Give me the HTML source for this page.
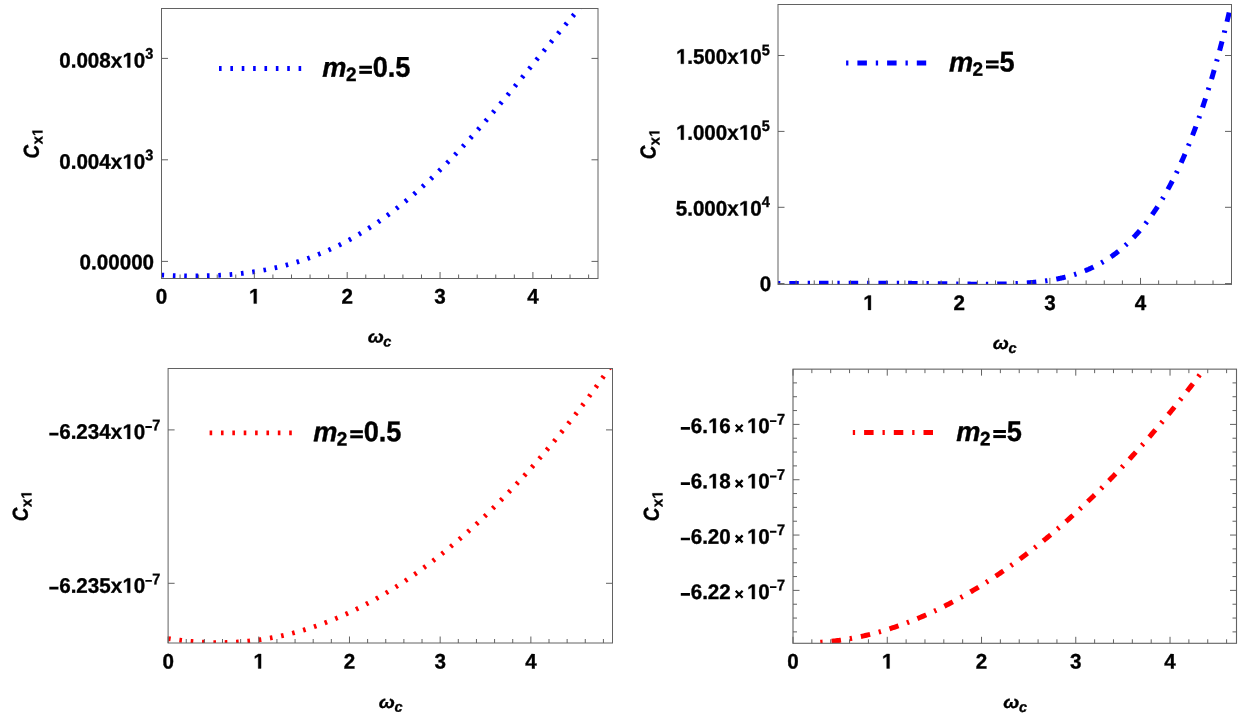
<!DOCTYPE html>
<html><head><meta charset="utf-8"><title>C_x1 versus omega_c for m2 = 0.5 and m2 = 5</title>
<style>
html,body{margin:0;padding:0;background:#fff;}
svg{display:block;will-change:transform;}
text{font-family:"Liberation Sans", sans-serif;font-weight:bold;fill:#000;stroke:#000;stroke-width:0.35px;stroke-linejoin:round;font-kerning:none;white-space:pre;text-rendering:geometricPrecision;}
path.g1{fill:#000;stroke:#000;stroke-width:35;stroke-linejoin:round;}rect.g1{fill:#000;}
</style></head>
<body>
<svg width="1238" height="719" viewBox="0 0 1238 719">
<clipPath id="c1"><rect x="161.5" y="8.5" width="436.5" height="270.0"/></clipPath>
<clipPath id="c2"><rect x="778.0" y="4.5" width="453.5" height="279.9"/></clipPath>
<clipPath id="c3"><rect x="168.1" y="368.5" width="444.4" height="274.5"/></clipPath>
<clipPath id="c4"><rect x="793.0" y="369.15" width="443.5" height="274.15"/></clipPath>
<path d="M161.50,275.05 L162.93,275.12 L164.37,275.19 L165.80,275.25 L167.23,275.31 L168.67,275.37 L170.10,275.43 L171.53,275.48 L172.96,275.53 L174.40,275.58 L175.83,275.62 L177.26,275.66 L178.70,275.70 L180.13,275.74 L181.56,275.77 L183.00,275.80 L184.43,275.83 L185.86,275.85 L187.30,275.87 L188.73,275.88 L190.16,275.90 L191.60,275.90 L193.03,275.91 L194.46,275.91 L195.89,275.91 L197.33,275.90 L198.76,275.89 L200.19,275.88 L201.63,275.86 L203.06,275.83 L204.49,275.81 L205.93,275.78 L207.36,275.74 L208.79,275.70 L210.23,275.66 L211.66,275.61 L213.09,275.56 L214.53,275.50 L215.96,275.44 L217.39,275.37 L218.82,275.30 L220.26,275.22 L221.69,275.14 L223.12,275.05 L224.56,274.96 L225.99,274.86 L227.42,274.76 L228.86,274.65 L230.29,274.53 L231.72,274.41 L233.16,274.29 L234.59,274.16 L236.02,274.02 L237.45,273.88 L238.89,273.73 L240.32,273.58 L241.75,273.42 L243.19,273.25 L244.62,273.08 L246.05,272.90 L247.49,272.72 L248.92,272.53 L250.35,272.33 L251.79,272.13 L253.22,271.92 L254.65,271.70 L256.09,271.48 L257.52,271.25 L258.95,271.01 L260.38,270.77 L261.82,270.52 L263.25,270.26 L264.68,270.00 L266.12,269.73 L267.55,269.45 L268.98,269.16 L270.42,268.87 L271.85,268.57 L273.28,268.26 L274.72,267.95 L276.15,267.62 L277.58,267.29 L279.02,266.95 L280.45,266.61 L281.88,266.25 L283.31,265.89 L284.75,265.52 L286.18,265.15 L287.61,264.76 L289.05,264.37 L290.48,263.96 L291.91,263.55 L293.35,263.14 L294.78,262.71 L296.21,262.27 L297.65,261.83 L299.08,261.38 L300.51,260.92 L301.94,260.45 L303.38,259.97 L304.81,259.48 L306.24,258.99 L307.68,258.48 L309.11,257.97 L310.54,257.45 L311.98,256.92 L313.41,256.38 L314.84,255.83 L316.28,255.27 L317.71,254.71 L319.14,254.13 L320.58,253.54 L322.01,252.95 L323.44,252.34 L324.87,251.73 L326.31,251.11 L327.74,250.48 L329.17,249.83 L330.61,249.18 L332.04,248.52 L333.47,247.85 L334.91,247.17 L336.34,246.48 L337.77,245.78 L339.21,245.07 L340.64,244.35 L342.07,243.62 L343.51,242.89 L344.94,242.14 L346.37,241.38 L347.80,240.61 L349.24,239.83 L350.67,239.04 L352.10,238.25 L353.54,237.44 L354.97,236.62 L356.40,235.79 L357.84,234.95 L359.27,234.10 L360.70,233.25 L362.14,232.38 L363.57,231.50 L365.00,230.61 L366.43,229.71 L367.87,228.80 L369.30,227.88 L370.73,226.95 L372.17,226.01 L373.60,225.06 L375.03,224.10 L376.47,223.13 L377.90,222.15 L379.33,221.16 L380.77,220.16 L382.20,219.15 L383.63,218.12 L385.07,217.09 L386.50,216.05 L387.93,215.00 L389.36,213.94 L390.80,212.86 L392.23,211.78 L393.66,210.69 L395.10,209.58 L396.53,208.47 L397.96,207.35 L399.40,206.21 L400.83,205.07 L402.26,203.92 L403.70,202.75 L405.13,201.58 L406.56,200.39 L407.99,199.20 L409.43,198.00 L410.86,196.78 L412.29,195.56 L413.73,194.32 L415.16,193.08 L416.59,191.83 L418.03,190.56 L419.46,189.29 L420.89,188.01 L422.33,186.72 L423.76,185.42 L425.19,184.10 L426.63,182.78 L428.06,181.45 L429.49,180.11 L430.92,178.77 L432.36,177.41 L433.79,176.04 L435.22,174.66 L436.66,173.28 L438.09,171.88 L439.52,170.48 L440.96,169.07 L442.39,167.65 L443.82,166.21 L445.26,164.78 L446.69,163.33 L448.12,161.87 L449.56,160.41 L450.99,158.93 L452.42,157.45 L453.85,155.96 L455.29,154.46 L456.72,152.96 L458.15,151.44 L459.59,149.92 L461.02,148.39 L462.45,146.86 L463.89,145.31 L465.32,143.76 L466.75,142.20 L468.19,140.63 L469.62,139.06 L471.05,137.47 L472.48,135.88 L473.92,134.29 L475.35,132.69 L476.78,131.08 L478.22,129.46 L479.65,127.84 L481.08,126.21 L482.52,124.58 L483.95,122.93 L485.38,121.29 L486.82,119.64 L488.25,117.98 L489.68,116.31 L491.12,114.64 L492.55,112.97 L493.98,111.29 L495.41,109.60 L496.85,107.91 L498.28,106.22 L499.71,104.52 L501.15,102.82 L502.58,101.11 L504.01,99.40 L505.45,97.68 L506.88,95.96 L508.31,94.24 L509.75,92.51 L511.18,90.78 L512.61,89.05 L514.05,87.31 L515.48,85.58 L516.91,83.83 L518.34,82.09 L519.78,80.35 L521.21,78.60 L522.64,76.85 L524.08,75.10 L525.51,73.34 L526.94,71.59 L528.38,69.83 L529.81,68.08 L531.24,66.32 L532.68,64.56 L534.11,62.81 L535.54,61.05 L536.97,59.29 L538.41,57.54 L539.84,55.78 L541.27,54.02 L542.71,52.27 L544.14,50.52 L545.57,48.76 L547.01,47.01 L548.44,45.27 L549.87,43.52 L551.31,41.78 L552.74,40.04 L554.17,38.30 L555.61,36.57 L557.04,34.83 L558.47,33.11 L559.90,31.38 L561.34,29.66 L562.77,27.95 L564.20,26.24 L565.64,24.54 L567.07,22.84 L568.50,21.14 L569.94,19.45 L571.37,17.77 L572.80,16.10 L574.24,14.43 L575.67,12.77 L577.10,11.11 L578.54,9.47 L579.97,7.83 L581.40,6.20 L582.83,4.57 L584.27,2.96 L585.70,1.36 L587.13,-0.24 L588.57,-1.82 L590.00,-3.40" fill="none" stroke="#0000ff" stroke-width="4.8" stroke-dasharray="2.6 8.77" clip-path="url(#c1)"/>
<path d="M778.00,283.40 L778.76,283.40 L779.52,283.40 L780.28,283.40 L781.04,283.40 L781.80,283.40 L782.56,283.40 L783.32,283.40 L784.08,283.40 L784.84,283.40 L785.60,283.40 L786.35,283.40 L787.11,283.40 L787.87,283.39 L788.63,283.39 L789.39,283.39 L790.15,283.39 L790.91,283.39 L791.67,283.39 L792.43,283.39 L793.19,283.39 L793.95,283.39 L794.71,283.39 L795.47,283.38 L796.23,283.38 L796.99,283.38 L797.75,283.38 L798.51,283.38 L799.27,283.38 L800.03,283.37 L800.79,283.37 L801.55,283.37 L802.31,283.37 L803.06,283.37 L803.82,283.37 L804.58,283.36 L805.34,283.36 L806.10,283.36 L806.86,283.36 L807.62,283.36 L808.38,283.35 L809.14,283.35 L809.90,283.35 L810.66,283.35 L811.42,283.34 L812.18,283.34 L812.94,283.34 L813.70,283.34 L814.46,283.34 L815.22,283.33 L815.98,283.33 L816.74,283.33 L817.50,283.33 L818.26,283.32 L819.01,283.32 L819.77,283.32 L820.53,283.31 L821.29,283.31 L822.05,283.31 L822.81,283.31 L823.57,283.30 L824.33,283.30 L825.09,283.30 L825.85,283.30 L826.61,283.29 L827.37,283.29 L828.13,283.29 L828.89,283.29 L829.65,283.28 L830.41,283.28 L831.17,283.28 L831.93,283.27 L832.69,283.27 L833.45,283.27 L834.21,283.27 L834.97,283.26 L835.72,283.26 L836.48,283.26 L837.24,283.26 L838.00,283.25 L838.76,283.25 L839.52,283.25 L840.28,283.25 L841.04,283.24 L841.80,283.24 L842.56,283.24 L843.32,283.24 L844.08,283.23 L844.84,283.23 L845.60,283.23 L846.36,283.23 L847.12,283.22 L847.88,283.22 L848.64,283.22 L849.40,283.22 L850.16,283.22 L850.92,283.21 L851.68,283.21 L852.43,283.21 L853.19,283.21 L853.95,283.21 L854.71,283.21 L855.47,283.20 L856.23,283.20 L856.99,283.20 L857.75,283.20 L858.51,283.20 L859.27,283.20 L860.03,283.20 L860.79,283.19 L861.55,283.19 L862.31,283.19 L863.07,283.19 L863.83,283.19 L864.59,283.19 L865.35,283.19 L866.11,283.19 L866.87,283.19 L867.63,283.19 L868.38,283.19 L869.14,283.19 L869.90,283.19 L870.66,283.19 L871.42,283.19 L872.18,283.19 L872.94,283.19 L873.70,283.19 L874.46,283.19 L875.22,283.19 L875.98,283.19 L876.74,283.19 L877.50,283.19 L878.26,283.19 L879.02,283.20 L879.78,283.20 L880.54,283.20 L881.30,283.20 L882.06,283.20 L882.82,283.20 L883.58,283.21 L884.34,283.21 L885.09,283.21 L885.85,283.21 L886.61,283.21 L887.37,283.22 L888.13,283.22 L888.89,283.22 L889.65,283.23 L890.41,283.23 L891.17,283.23 L891.93,283.24 L892.69,283.24 L893.45,283.24 L894.21,283.25 L894.97,283.25 L895.73,283.26 L896.49,283.26 L897.25,283.26 L898.01,283.27 L898.77,283.27 L899.53,283.28 L900.29,283.28 L901.04,283.29 L901.80,283.29 L902.56,283.30 L903.32,283.30 L904.08,283.31 L904.84,283.32 L905.60,283.32 L906.36,283.33 L907.12,283.33 L907.88,283.34 L908.64,283.35 L909.40,283.35 L910.16,283.36 L910.92,283.37 L911.68,283.37 L912.44,283.38 L913.20,283.39 L913.96,283.40 L914.72,283.40 L915.48,283.41 L916.24,283.42 L917.00,283.43 L917.75,283.44 L918.51,283.44 L919.27,283.45 L920.03,283.46 L920.79,283.47 L921.55,283.48 L922.31,283.49 L923.07,283.50 L923.83,283.50 L924.59,283.51 L925.35,283.52 L926.11,283.53 L926.87,283.54 L927.63,283.55 L928.39,283.56 L929.15,283.57 L929.91,283.58 L930.67,283.59 L931.43,283.60 L932.19,283.61 L932.95,283.62 L933.71,283.63 L934.46,283.64 L935.22,283.65 L935.98,283.66 L936.74,283.67 L937.50,283.68 L938.26,283.70 L939.02,283.71 L939.78,283.72 L940.54,283.73 L941.30,283.74 L942.06,283.75 L942.82,283.76 L943.58,283.77 L944.34,283.78 L945.10,283.79 L945.86,283.80 L946.62,283.82 L947.38,283.83 L948.14,283.84 L948.90,283.85 L949.66,283.86 L950.41,283.87 L951.17,283.88 L951.93,283.89 L952.69,283.90 L953.45,283.91 L954.21,283.92 L954.97,283.93 L955.73,283.95 L956.49,283.96 L957.25,283.97 L958.01,283.98 L958.77,283.99 L959.53,284.00 L960.29,284.01 L961.05,284.02 L961.81,284.03 L962.57,284.04 L963.33,284.04 L964.09,284.05 L964.85,284.06 L965.61,284.07 L966.37,284.08 L967.12,284.09 L967.88,284.10 L968.64,284.10 L969.40,284.11 L970.16,284.12 L970.92,284.13 L971.68,284.13 L972.44,284.14 L973.20,284.15 L973.96,284.15 L974.72,284.16 L975.48,284.16 L976.24,284.17 L977.00,284.17 L977.76,284.18 L978.52,284.18 L979.28,284.19 L980.04,284.19 L980.80,284.19 L981.56,284.20 L982.32,284.20 L983.07,284.20 L983.83,284.20 L984.59,284.20 L985.35,284.20 L986.11,284.20 L986.87,284.20 L987.63,284.20 L988.39,284.20 L989.15,284.19 L989.91,284.19 L990.67,284.19 L991.43,284.18 L992.19,284.18 L992.95,284.17 L993.71,284.16 L994.47,284.16 L995.23,284.15 L995.99,284.14 L996.75,284.13 L997.51,284.12 L998.27,284.11 L999.03,284.10 L999.78,284.09 L1000.54,284.07 L1001.30,284.06 L1002.06,284.04 L1002.82,284.03 L1003.58,284.01 L1004.34,283.99 L1005.10,283.97 L1005.86,283.96 L1006.62,283.93 L1007.38,283.91 L1008.14,283.89 L1008.90,283.87 L1009.66,283.84 L1010.42,283.82 L1011.18,283.79 L1011.94,283.76 L1012.70,283.73 L1013.46,283.70 L1014.22,283.67 L1014.98,283.63 L1015.74,283.60 L1016.49,283.56 L1017.25,283.53 L1018.01,283.49 L1018.77,283.45 L1019.53,283.41 L1020.29,283.36 L1021.05,283.32 L1021.81,283.27 L1022.57,283.23 L1023.33,283.18 L1024.09,283.13 L1024.85,283.08 L1025.61,283.02 L1026.37,282.97 L1027.13,282.91 L1027.89,282.85 L1028.65,282.79 L1029.41,282.73 L1030.17,282.66 L1030.93,282.60 L1031.69,282.53 L1032.44,282.46 L1033.20,282.39 L1033.96,282.32 L1034.72,282.24 L1035.48,282.16 L1036.24,282.08 L1037.00,282.00 L1037.76,281.92 L1038.52,281.83 L1039.28,281.74 L1040.04,281.65 L1040.80,281.56 L1041.56,281.46 L1042.32,281.36 L1043.08,281.26 L1043.84,281.16 L1044.60,281.06 L1045.36,280.95 L1046.12,280.84 L1046.88,280.73 L1047.64,280.61 L1048.40,280.49 L1049.15,280.37 L1049.91,280.25 L1050.67,280.12 L1051.43,279.99 L1052.19,279.86 L1052.95,279.73 L1053.71,279.59 L1054.47,279.45 L1055.23,279.30 L1055.99,279.16 L1056.75,279.01 L1057.51,278.85 L1058.27,278.70 L1059.03,278.54 L1059.79,278.37 L1060.55,278.21 L1061.31,278.04 L1062.07,277.86 L1062.83,277.69 L1063.59,277.51 L1064.35,277.32 L1065.10,277.13 L1065.86,276.94 L1066.62,276.75 L1067.38,276.55 L1068.14,276.35 L1068.90,276.14 L1069.66,275.93 L1070.42,275.71 L1071.18,275.49 L1071.94,275.27 L1072.70,275.04 L1073.46,274.81 L1074.22,274.58 L1074.98,274.34 L1075.74,274.09 L1076.50,273.84 L1077.26,273.59 L1078.02,273.33 L1078.78,273.07 L1079.54,272.80 L1080.30,272.53 L1081.06,272.25 L1081.81,271.97 L1082.57,271.68 L1083.33,271.39 L1084.09,271.10 L1084.85,270.79 L1085.61,270.49 L1086.37,270.17 L1087.13,269.86 L1087.89,269.53 L1088.65,269.21 L1089.41,268.87 L1090.17,268.53 L1090.93,268.19 L1091.69,267.84 L1092.45,267.48 L1093.21,267.12 L1093.97,266.75 L1094.73,266.37 L1095.49,265.99 L1096.25,265.61 L1097.01,265.21 L1097.77,264.82 L1098.52,264.41 L1099.28,264.00 L1100.04,263.58 L1100.80,263.16 L1101.56,262.72 L1102.32,262.29 L1103.08,261.84 L1103.84,261.39 L1104.60,260.93 L1105.36,260.47 L1106.12,259.99 L1106.88,259.51 L1107.64,259.03 L1108.40,258.53 L1109.16,258.03 L1109.92,257.52 L1110.68,257.01 L1111.44,256.48 L1112.20,255.95 L1112.96,255.41 L1113.72,254.86 L1114.47,254.31 L1115.23,253.74 L1115.99,253.17 L1116.75,252.59 L1117.51,252.00 L1118.27,251.40 L1119.03,250.80 L1119.79,250.18 L1120.55,249.56 L1121.31,248.93 L1122.07,248.29 L1122.83,247.64 L1123.59,246.98 L1124.35,246.31 L1125.11,245.64 L1125.87,244.95 L1126.63,244.26 L1127.39,243.55 L1128.15,242.84 L1128.91,242.11 L1129.67,241.38 L1130.43,240.63 L1131.18,239.88 L1131.94,239.12 L1132.70,238.34 L1133.46,237.56 L1134.22,236.76 L1134.98,235.96 L1135.74,235.14 L1136.50,234.31 L1137.26,233.47 L1138.02,232.63 L1138.78,231.77 L1139.54,230.89 L1140.30,230.01 L1141.06,229.12 L1141.82,228.21 L1142.58,227.30 L1143.34,226.37 L1144.10,225.43 L1144.86,224.48 L1145.62,223.51 L1146.38,222.54 L1147.13,221.55 L1147.89,220.55 L1148.65,219.53 L1149.41,218.51 L1150.17,217.47 L1150.93,216.42 L1151.69,215.35 L1152.45,214.27 L1153.21,213.18 L1153.97,212.08 L1154.73,210.96 L1155.49,209.83 L1156.25,208.68 L1157.01,207.53 L1157.77,206.35 L1158.53,205.17 L1159.29,203.96 L1160.05,202.75 L1160.81,201.52 L1161.57,200.27 L1162.33,199.02 L1163.09,197.74 L1163.84,196.45 L1164.60,195.15 L1165.36,193.83 L1166.12,192.49 L1166.88,191.14 L1167.64,189.78 L1168.40,188.39 L1169.16,187.00 L1169.92,185.58 L1170.68,184.15 L1171.44,182.71 L1172.20,181.24 L1172.96,179.76 L1173.72,178.27 L1174.48,176.75 L1175.24,175.22 L1176.00,173.67 L1176.76,172.11 L1177.52,170.52 L1178.28,168.92 L1179.04,167.31 L1179.80,165.67 L1180.55,164.01 L1181.31,162.34 L1182.07,160.65 L1182.83,158.94 L1183.59,157.21 L1184.35,155.46 L1185.11,153.70 L1185.87,151.91 L1186.63,150.11 L1187.39,148.28 L1188.15,146.44 L1188.91,144.57 L1189.67,142.69 L1190.43,140.78 L1191.19,138.86 L1191.95,136.91 L1192.71,134.94 L1193.47,132.96 L1194.23,130.95 L1194.99,128.92 L1195.75,126.87 L1196.50,124.79 L1197.26,122.70 L1198.02,120.58 L1198.78,118.45 L1199.54,116.29 L1200.30,114.10 L1201.06,111.90 L1201.82,109.67 L1202.58,107.42 L1203.34,105.14 L1204.10,102.84 L1204.86,100.52 L1205.62,98.18 L1206.38,95.81 L1207.14,93.41 L1207.90,91.00 L1208.66,88.56 L1209.42,86.09 L1210.18,83.60 L1210.94,81.08 L1211.70,78.54 L1212.46,75.97 L1213.21,73.38 L1213.97,70.76 L1214.73,68.12 L1215.49,65.44 L1216.25,62.75 L1217.01,60.02 L1217.77,57.27 L1218.53,54.49 L1219.29,51.69 L1220.05,48.86 L1220.81,46.00 L1221.57,43.11 L1222.33,40.19 L1223.09,37.25 L1223.85,34.28 L1224.61,31.27 L1225.37,28.24 L1226.13,25.18 L1226.89,22.10 L1227.65,18.98 L1228.41,15.83 L1229.16,12.65 L1229.92,9.44 L1230.68,6.20 L1231.44,2.93 L1232.20,-0.37 L1232.96,-3.70" fill="none" stroke="#0000ff" stroke-width="5.0" stroke-dasharray="2.3 9.0 9.5 8.9" clip-path="url(#c2)"/>
<path d="M168.10,638.58 L169.59,638.81 L171.08,639.03 L172.56,639.24 L174.05,639.45 L175.54,639.65 L177.03,639.85 L178.52,640.04 L180.00,640.22 L181.49,640.40 L182.98,640.57 L184.47,640.73 L185.96,640.89 L187.44,641.04 L188.93,641.19 L190.42,641.32 L191.91,641.45 L193.40,641.58 L194.88,641.69 L196.37,641.80 L197.86,641.91 L199.35,642.00 L200.84,642.09 L202.32,642.17 L203.81,642.25 L205.30,642.32 L206.79,642.38 L208.27,642.43 L209.76,642.48 L211.25,642.52 L212.74,642.55 L214.23,642.58 L215.71,642.60 L217.20,642.61 L218.69,642.61 L220.18,642.61 L221.67,642.59 L223.15,642.58 L224.64,642.55 L226.13,642.52 L227.62,642.48 L229.11,642.43 L230.59,642.37 L232.08,642.31 L233.57,642.24 L235.06,642.16 L236.55,642.07 L238.03,641.98 L239.52,641.88 L241.01,641.77 L242.50,641.65 L243.99,641.53 L245.47,641.40 L246.96,641.26 L248.45,641.11 L249.94,640.96 L251.43,640.79 L252.91,640.62 L254.40,640.44 L255.89,640.26 L257.38,640.06 L258.87,639.86 L260.35,639.65 L261.84,639.44 L263.33,639.21 L264.82,638.98 L266.31,638.74 L267.79,638.49 L269.28,638.23 L270.77,637.97 L272.26,637.69 L273.75,637.41 L275.23,637.12 L276.72,636.83 L278.21,636.52 L279.70,636.21 L281.18,635.89 L282.67,635.56 L284.16,635.22 L285.65,634.88 L287.14,634.53 L288.62,634.17 L290.11,633.80 L291.60,633.42 L293.09,633.04 L294.58,632.64 L296.06,632.24 L297.55,631.83 L299.04,631.42 L300.53,630.99 L302.02,630.56 L303.50,630.12 L304.99,629.67 L306.48,629.21 L307.97,628.75 L309.46,628.27 L310.94,627.79 L312.43,627.30 L313.92,626.80 L315.41,626.30 L316.90,625.78 L318.38,625.26 L319.87,624.73 L321.36,624.19 L322.85,623.65 L324.34,623.09 L325.82,622.53 L327.31,621.96 L328.80,621.38 L330.29,620.79 L331.78,620.20 L333.26,619.59 L334.75,618.98 L336.24,618.36 L337.73,617.74 L339.22,617.10 L340.70,616.46 L342.19,615.80 L343.68,615.14 L345.17,614.48 L346.66,613.80 L348.14,613.12 L349.63,612.42 L351.12,611.72 L352.61,611.01 L354.09,610.30 L355.58,609.57 L357.07,608.84 L358.56,608.10 L360.05,607.35 L361.53,606.59 L363.02,605.83 L364.51,605.05 L366.00,604.27 L367.49,603.48 L368.97,602.69 L370.46,601.88 L371.95,601.07 L373.44,600.24 L374.93,599.42 L376.41,598.58 L377.90,597.73 L379.39,596.88 L380.88,596.02 L382.37,595.15 L383.85,594.27 L385.34,593.38 L386.83,592.49 L388.32,591.59 L389.81,590.68 L391.29,589.76 L392.78,588.83 L394.27,587.90 L395.76,586.96 L397.25,586.01 L398.73,585.05 L400.22,584.08 L401.71,583.11 L403.20,582.12 L404.69,581.13 L406.17,580.14 L407.66,579.13 L409.15,578.12 L410.64,577.10 L412.13,576.07 L413.61,575.03 L415.10,573.98 L416.59,572.93 L418.08,571.87 L419.57,570.80 L421.05,569.72 L422.54,568.63 L424.03,567.54 L425.52,566.44 L427.01,565.33 L428.49,564.21 L429.98,563.09 L431.47,561.95 L432.96,560.81 L434.44,559.66 L435.93,558.51 L437.42,557.34 L438.91,556.17 L440.40,554.99 L441.88,553.80 L443.37,552.61 L444.86,551.40 L446.35,550.19 L447.84,548.97 L449.32,547.74 L450.81,546.51 L452.30,545.26 L453.79,544.01 L455.28,542.75 L456.76,541.48 L458.25,540.21 L459.74,538.93 L461.23,537.63 L462.72,536.33 L464.20,535.03 L465.69,533.71 L467.18,532.39 L468.67,531.06 L470.16,529.72 L471.64,528.37 L473.13,527.02 L474.62,525.66 L476.11,524.29 L477.60,522.91 L479.08,521.52 L480.57,520.13 L482.06,518.73 L483.55,517.32 L485.04,515.90 L486.52,514.47 L488.01,513.04 L489.50,511.60 L490.99,510.15 L492.48,508.69 L493.96,507.23 L495.45,505.75 L496.94,504.27 L498.43,502.78 L499.92,501.28 L501.40,499.78 L502.89,498.27 L504.38,496.74 L505.87,495.21 L507.35,493.68 L508.84,492.13 L510.33,490.58 L511.82,489.02 L513.31,487.45 L514.79,485.87 L516.28,484.28 L517.77,482.69 L519.26,481.09 L520.75,479.48 L522.23,477.86 L523.72,476.23 L525.21,474.60 L526.70,472.95 L528.19,471.30 L529.67,469.64 L531.16,467.97 L532.65,466.30 L534.14,464.61 L535.63,462.92 L537.11,461.22 L538.60,459.51 L540.09,457.79 L541.58,456.07 L543.07,454.33 L544.55,452.59 L546.04,450.84 L547.53,449.08 L549.02,447.31 L550.51,445.54 L551.99,443.75 L553.48,441.96 L554.97,440.16 L556.46,438.35 L557.95,436.53 L559.43,434.70 L560.92,432.87 L562.41,431.02 L563.90,429.17 L565.39,427.31 L566.87,425.43 L568.36,423.56 L569.85,421.67 L571.34,419.77 L572.83,417.86 L574.31,415.95 L575.80,414.03 L577.29,412.09 L578.78,410.15 L580.26,408.20 L581.75,406.24 L583.24,404.27 L584.73,402.30 L586.22,400.31 L587.70,398.31 L589.19,396.31 L590.68,394.30 L592.17,392.27 L593.66,390.24 L595.14,388.20 L596.63,386.15 L598.12,384.09 L599.61,382.02 L601.10,379.94 L602.58,377.85 L604.07,375.75 L605.56,373.64 L607.05,371.53 L608.54,369.40 L610.02,367.26 L611.51,365.12 L613.00,362.96" fill="none" stroke="#ff0000" stroke-width="4.8" stroke-dasharray="2.6 8.77" clip-path="url(#c3)"/>
<path d="M820.30,642.25 L821.62,642.16 L822.94,642.07 L824.26,641.96 L825.58,641.86 L826.90,641.74 L828.22,641.62 L829.54,641.49 L830.86,641.36 L832.18,641.22 L833.50,641.07 L834.82,640.91 L836.14,640.75 L837.46,640.58 L838.78,640.41 L840.10,640.23 L841.42,640.04 L842.74,639.84 L844.06,639.64 L845.38,639.44 L846.70,639.22 L848.02,639.00 L849.34,638.77 L850.66,638.54 L851.98,638.30 L853.30,638.05 L854.62,637.80 L855.94,637.54 L857.26,637.27 L858.58,637.00 L859.90,636.72 L861.22,636.44 L862.54,636.15 L863.86,635.85 L865.18,635.54 L866.50,635.23 L867.82,634.92 L869.14,634.59 L870.46,634.27 L871.78,633.93 L873.10,633.59 L874.42,633.24 L875.74,632.89 L877.06,632.53 L878.38,632.16 L879.70,631.79 L881.02,631.41 L882.34,631.02 L883.66,630.63 L884.98,630.23 L886.30,629.83 L887.62,629.42 L888.94,629.01 L890.26,628.58 L891.58,628.16 L892.90,627.72 L894.22,627.28 L895.54,626.84 L896.86,626.38 L898.18,625.93 L899.50,625.46 L900.82,624.99 L902.14,624.52 L903.46,624.03 L904.78,623.55 L906.10,623.05 L907.42,622.55 L908.74,622.05 L910.06,621.54 L911.38,621.02 L912.70,620.49 L914.02,619.97 L915.34,619.43 L916.66,618.89 L917.98,618.34 L919.31,617.79 L920.63,617.23 L921.95,616.67 L923.27,616.10 L924.59,615.52 L925.91,614.94 L927.23,614.35 L928.55,613.76 L929.87,613.16 L931.19,612.55 L932.51,611.94 L933.83,611.32 L935.15,610.70 L936.47,610.07 L937.79,609.44 L939.11,608.80 L940.43,608.16 L941.75,607.51 L943.07,606.85 L944.39,606.19 L945.71,605.52 L947.03,604.84 L948.35,604.17 L949.67,603.48 L950.99,602.79 L952.31,602.09 L953.63,601.39 L954.95,600.68 L956.27,599.97 L957.59,599.25 L958.91,598.53 L960.23,597.80 L961.55,597.06 L962.87,596.32 L964.19,595.58 L965.51,594.82 L966.83,594.07 L968.15,593.30 L969.47,592.53 L970.79,591.76 L972.11,590.98 L973.43,590.19 L974.75,589.40 L976.07,588.61 L977.39,587.80 L978.71,587.00 L980.03,586.18 L981.35,585.36 L982.67,584.54 L983.99,583.71 L985.31,582.87 L986.63,582.03 L987.95,581.19 L989.27,580.34 L990.59,579.48 L991.91,578.62 L993.23,577.75 L994.55,576.88 L995.87,576.00 L997.19,575.11 L998.51,574.22 L999.83,573.33 L1001.15,572.43 L1002.47,571.52 L1003.79,570.61 L1005.11,569.69 L1006.43,568.77 L1007.75,567.84 L1009.07,566.91 L1010.39,565.97 L1011.71,565.02 L1013.03,564.08 L1014.35,563.12 L1015.67,562.16 L1016.99,561.19 L1018.31,560.22 L1019.63,559.25 L1020.95,558.26 L1022.27,557.28 L1023.59,556.28 L1024.91,555.29 L1026.23,554.28 L1027.55,553.27 L1028.87,552.26 L1030.19,551.24 L1031.51,550.21 L1032.83,549.18 L1034.15,548.15 L1035.47,547.11 L1036.79,546.06 L1038.11,545.01 L1039.43,543.95 L1040.75,542.89 L1042.07,541.82 L1043.39,540.75 L1044.71,539.67 L1046.03,538.58 L1047.35,537.49 L1048.67,536.40 L1049.99,535.30 L1051.31,534.19 L1052.63,533.08 L1053.95,531.96 L1055.27,530.84 L1056.59,529.71 L1057.91,528.58 L1059.23,527.44 L1060.55,526.30 L1061.87,525.15 L1063.19,524.00 L1064.51,522.84 L1065.83,521.67 L1067.15,520.50 L1068.47,519.32 L1069.79,518.14 L1071.11,516.96 L1072.43,515.76 L1073.75,514.57 L1075.07,513.36 L1076.39,512.16 L1077.71,510.94 L1079.03,509.72 L1080.35,508.50 L1081.67,507.27 L1082.99,506.03 L1084.31,504.79 L1085.63,503.55 L1086.95,502.30 L1088.27,501.04 L1089.59,499.78 L1090.91,498.51 L1092.23,497.23 L1093.55,495.96 L1094.87,494.67 L1096.19,493.38 L1097.51,492.09 L1098.83,490.79 L1100.15,489.48 L1101.47,488.17 L1102.79,486.85 L1104.11,485.53 L1105.43,484.20 L1106.75,482.87 L1108.07,481.53 L1109.39,480.19 L1110.71,478.84 L1112.03,477.48 L1113.35,476.12 L1114.67,474.76 L1115.99,473.38 L1117.32,472.01 L1118.64,470.62 L1119.96,469.24 L1121.28,467.84 L1122.60,466.44 L1123.92,465.04 L1125.24,463.63 L1126.56,462.21 L1127.88,460.79 L1129.20,459.36 L1130.52,457.93 L1131.84,456.49 L1133.16,455.05 L1134.48,453.60 L1135.80,452.14 L1137.12,450.68 L1138.44,449.22 L1139.76,447.75 L1141.08,446.27 L1142.40,444.79 L1143.72,443.30 L1145.04,441.80 L1146.36,440.30 L1147.68,438.80 L1149.00,437.29 L1150.32,435.77 L1151.64,434.25 L1152.96,432.72 L1154.28,431.18 L1155.60,429.65 L1156.92,428.10 L1158.24,426.55 L1159.56,424.99 L1160.88,423.43 L1162.20,421.86 L1163.52,420.29 L1164.84,418.71 L1166.16,417.12 L1167.48,415.53 L1168.80,413.93 L1170.12,412.33 L1171.44,410.72 L1172.76,409.11 L1174.08,407.49 L1175.40,405.86 L1176.72,404.23 L1178.04,402.59 L1179.36,400.95 L1180.68,399.30 L1182.00,397.64 L1183.32,395.98 L1184.64,394.32 L1185.96,392.64 L1187.28,390.96 L1188.60,389.28 L1189.92,387.59 L1191.24,385.89 L1192.56,384.19 L1193.88,382.48 L1195.20,380.76 L1196.52,379.04 L1197.84,377.32 L1199.16,375.58 L1200.48,373.85 L1201.80,372.10 L1203.12,370.35 L1204.44,368.59 L1205.76,366.83 L1207.08,365.06 L1208.40,363.29 L1209.72,361.51 L1211.04,359.72 L1212.36,357.92 L1213.68,356.12 L1215.00,354.32" fill="none" stroke="#ff0000" stroke-width="5.0" stroke-dasharray="2.3 9.0 9.5 8.9" clip-path="url(#c4)"/>
<rect x="161.5" y="8.5" width="436.5" height="270.0" fill="none" stroke="#626262" stroke-width="1"/>
<line x1="161.50" y1="278.50" x2="161.50" y2="272.00" stroke="#626262" stroke-width="1"/>
<line x1="180.07" y1="278.50" x2="180.07" y2="274.50" stroke="#626262" stroke-width="1"/>
<line x1="198.64" y1="278.50" x2="198.64" y2="274.50" stroke="#626262" stroke-width="1"/>
<line x1="217.21" y1="278.50" x2="217.21" y2="274.50" stroke="#626262" stroke-width="1"/>
<line x1="235.78" y1="278.50" x2="235.78" y2="274.50" stroke="#626262" stroke-width="1"/>
<line x1="254.35" y1="278.50" x2="254.35" y2="272.00" stroke="#626262" stroke-width="1"/>
<line x1="272.92" y1="278.50" x2="272.92" y2="274.50" stroke="#626262" stroke-width="1"/>
<line x1="291.49" y1="278.50" x2="291.49" y2="274.50" stroke="#626262" stroke-width="1"/>
<line x1="310.06" y1="278.50" x2="310.06" y2="274.50" stroke="#626262" stroke-width="1"/>
<line x1="328.63" y1="278.50" x2="328.63" y2="274.50" stroke="#626262" stroke-width="1"/>
<line x1="347.20" y1="278.50" x2="347.20" y2="272.00" stroke="#626262" stroke-width="1"/>
<line x1="365.77" y1="278.50" x2="365.77" y2="274.50" stroke="#626262" stroke-width="1"/>
<line x1="384.34" y1="278.50" x2="384.34" y2="274.50" stroke="#626262" stroke-width="1"/>
<line x1="402.91" y1="278.50" x2="402.91" y2="274.50" stroke="#626262" stroke-width="1"/>
<line x1="421.48" y1="278.50" x2="421.48" y2="274.50" stroke="#626262" stroke-width="1"/>
<line x1="440.05" y1="278.50" x2="440.05" y2="272.00" stroke="#626262" stroke-width="1"/>
<line x1="458.62" y1="278.50" x2="458.62" y2="274.50" stroke="#626262" stroke-width="1"/>
<line x1="477.19" y1="278.50" x2="477.19" y2="274.50" stroke="#626262" stroke-width="1"/>
<line x1="495.76" y1="278.50" x2="495.76" y2="274.50" stroke="#626262" stroke-width="1"/>
<line x1="514.33" y1="278.50" x2="514.33" y2="274.50" stroke="#626262" stroke-width="1"/>
<line x1="532.90" y1="278.50" x2="532.90" y2="272.00" stroke="#626262" stroke-width="1"/>
<line x1="551.47" y1="278.50" x2="551.47" y2="274.50" stroke="#626262" stroke-width="1"/>
<line x1="570.04" y1="278.50" x2="570.04" y2="274.50" stroke="#626262" stroke-width="1"/>
<line x1="588.61" y1="278.50" x2="588.61" y2="274.50" stroke="#626262" stroke-width="1"/>
<line x1="161.50" y1="58.40" x2="168.00" y2="58.40" stroke="#626262" stroke-width="1"/>
<line x1="598.00" y1="58.40" x2="591.50" y2="58.40" stroke="#626262" stroke-width="1"/>
<line x1="161.50" y1="159.80" x2="168.00" y2="159.80" stroke="#626262" stroke-width="1"/>
<line x1="598.00" y1="159.80" x2="591.50" y2="159.80" stroke="#626262" stroke-width="1"/>
<line x1="161.50" y1="261.40" x2="168.00" y2="261.40" stroke="#626262" stroke-width="1"/>
<line x1="598.00" y1="261.40" x2="591.50" y2="261.40" stroke="#626262" stroke-width="1"/>
<g transform="translate(161.50,303.55) rotate(0.03) scale(1,1.02)">
<text x="-5.73" y="0.00" font-size="20.6">0</text>
</g>
<g transform="translate(254.35,303.55) rotate(0.03) scale(1,1.02)">
<path class="g1" transform="translate(-5.73,0.00) scale(0.010059,-0.010059)" d="M515 0V1170L177 959V1180L530 1409H796V0Z"/>
</g>
<g transform="translate(347.20,303.55) rotate(0.03) scale(1,1.02)">
<text x="-5.73" y="0.00" font-size="20.6">2</text>
</g>
<g transform="translate(440.05,303.55) rotate(0.03) scale(1,1.02)">
<text x="-5.73" y="0.00" font-size="20.6">3</text>
</g>
<g transform="translate(532.90,303.55) rotate(0.03) scale(1,1.02)">
<text x="-5.73" y="0.00" font-size="20.6">4</text>
</g>
<g transform="translate(153.20,67.45) rotate(0.03) scale(1,1.02)">
<text x="-93.98" y="0.00" font-size="20.6">0.008x</text>
<path class="g1" transform="translate(-30.98,0.00) scale(0.010059,-0.010059)" d="M515 0V1170L177 959V1180L530 1409H796V0Z"/>
<text x="-19.52" y="0.00" font-size="20.6">0</text>
<text transform="translate(-8.06,-8.50) scale(1,1.04)" font-size="14.5">3</text>
</g>
<g transform="translate(153.20,168.85) rotate(0.03) scale(1,1.02)">
<text x="-93.98" y="0.00" font-size="20.6">0.004x</text>
<path class="g1" transform="translate(-30.98,0.00) scale(0.010059,-0.010059)" d="M515 0V1170L177 959V1180L530 1409H796V0Z"/>
<text x="-19.52" y="0.00" font-size="20.6">0</text>
<text transform="translate(-8.06,-8.50) scale(1,1.04)" font-size="14.5">3</text>
</g>
<g transform="translate(154.05,269.30) rotate(0.03) scale(1,1.02)">
<text x="-74.46" y="0.00" font-size="20.6">0.00000</text>
</g>
<g transform="translate(38.65,143.40) rotate(-89.97) scale(1,1.02)">
<text transform="translate(-15.15,0.00) scale(1,1.13)" font-size="18.8" font-style="italic">C</text>
<text x="-0.98" y="3.80" font-size="14.5">x</text>
<path class="g1" transform="translate(7.09,3.80) scale(0.007080,-0.007080)" d="M515 0V1170L177 959V1180L530 1409H796V0Z"/>
</g>
<g transform="translate(367.70,342.60) rotate(0.03) scale(1,0.9)">
<text x="0.00" y="0.00" font-size="19.2" font-style="italic">ω</text>
</g>
<g transform="translate(383.35,346.45) rotate(0.03) scale(1,1.0)">
<text x="0.00" y="0.00" font-size="14.5" font-style="italic">c</text>
</g>
<path d="M219,68.5 H301.3" fill="none" stroke="#0000ff" stroke-width="4.8" stroke-dasharray="2.6 8.77"/>
<g transform="translate(322.30,76.75) rotate(0.03) scale(1,1.02)">
<text x="0.00" y="0.00" font-size="27.2" font-style="italic">m</text>
</g>
<g transform="translate(345.89,81.00) rotate(0.03) scale(1,1.016)">
<text x="0.00" y="0.00" font-size="19">2</text>
</g>
<rect x="359.30" y="65.75" width="12.6" height="3.0" fill="#000"/><rect x="359.30" y="70.85" width="12.6" height="3.0" fill="#000"/>
<g transform="translate(372.70,76.75) rotate(0.03) scale(1,1.05)">
<text x="0.00" y="0.00" font-size="27.2">0.5</text>
</g>
<rect x="778.0" y="4.5" width="453.5" height="279.9" fill="none" stroke="#626262" stroke-width="1"/>
<line x1="796.13" y1="284.40" x2="796.13" y2="280.40" stroke="#626262" stroke-width="1"/>
<line x1="814.25" y1="284.40" x2="814.25" y2="280.40" stroke="#626262" stroke-width="1"/>
<line x1="832.38" y1="284.40" x2="832.38" y2="280.40" stroke="#626262" stroke-width="1"/>
<line x1="850.50" y1="284.40" x2="850.50" y2="280.40" stroke="#626262" stroke-width="1"/>
<line x1="868.63" y1="284.40" x2="868.63" y2="277.90" stroke="#626262" stroke-width="1"/>
<line x1="886.76" y1="284.40" x2="886.76" y2="280.40" stroke="#626262" stroke-width="1"/>
<line x1="904.88" y1="284.40" x2="904.88" y2="280.40" stroke="#626262" stroke-width="1"/>
<line x1="923.01" y1="284.40" x2="923.01" y2="280.40" stroke="#626262" stroke-width="1"/>
<line x1="941.13" y1="284.40" x2="941.13" y2="280.40" stroke="#626262" stroke-width="1"/>
<line x1="959.26" y1="284.40" x2="959.26" y2="277.90" stroke="#626262" stroke-width="1"/>
<line x1="977.39" y1="284.40" x2="977.39" y2="280.40" stroke="#626262" stroke-width="1"/>
<line x1="995.51" y1="284.40" x2="995.51" y2="280.40" stroke="#626262" stroke-width="1"/>
<line x1="1013.64" y1="284.40" x2="1013.64" y2="280.40" stroke="#626262" stroke-width="1"/>
<line x1="1031.76" y1="284.40" x2="1031.76" y2="280.40" stroke="#626262" stroke-width="1"/>
<line x1="1049.89" y1="284.40" x2="1049.89" y2="277.90" stroke="#626262" stroke-width="1"/>
<line x1="1068.02" y1="284.40" x2="1068.02" y2="280.40" stroke="#626262" stroke-width="1"/>
<line x1="1086.14" y1="284.40" x2="1086.14" y2="280.40" stroke="#626262" stroke-width="1"/>
<line x1="1104.27" y1="284.40" x2="1104.27" y2="280.40" stroke="#626262" stroke-width="1"/>
<line x1="1122.39" y1="284.40" x2="1122.39" y2="280.40" stroke="#626262" stroke-width="1"/>
<line x1="1140.52" y1="284.40" x2="1140.52" y2="277.90" stroke="#626262" stroke-width="1"/>
<line x1="1158.65" y1="284.40" x2="1158.65" y2="280.40" stroke="#626262" stroke-width="1"/>
<line x1="1176.77" y1="284.40" x2="1176.77" y2="280.40" stroke="#626262" stroke-width="1"/>
<line x1="1194.90" y1="284.40" x2="1194.90" y2="280.40" stroke="#626262" stroke-width="1"/>
<line x1="1213.02" y1="284.40" x2="1213.02" y2="280.40" stroke="#626262" stroke-width="1"/>
<line x1="778.00" y1="55.50" x2="784.50" y2="55.50" stroke="#626262" stroke-width="1"/>
<line x1="1231.50" y1="55.50" x2="1225.00" y2="55.50" stroke="#626262" stroke-width="1"/>
<line x1="778.00" y1="131.40" x2="784.50" y2="131.40" stroke="#626262" stroke-width="1"/>
<line x1="1231.50" y1="131.40" x2="1225.00" y2="131.40" stroke="#626262" stroke-width="1"/>
<line x1="778.00" y1="207.30" x2="784.50" y2="207.30" stroke="#626262" stroke-width="1"/>
<line x1="1231.50" y1="207.30" x2="1225.00" y2="207.30" stroke="#626262" stroke-width="1"/>
<line x1="778.00" y1="283.60" x2="784.50" y2="283.60" stroke="#626262" stroke-width="1"/>
<line x1="1231.50" y1="283.60" x2="1225.00" y2="283.60" stroke="#626262" stroke-width="1"/>
<g transform="translate(868.63,309.90) rotate(0.03) scale(1,1.02)">
<path class="g1" transform="translate(-5.73,0.00) scale(0.010059,-0.010059)" d="M515 0V1170L177 959V1180L530 1409H796V0Z"/>
</g>
<g transform="translate(959.26,309.90) rotate(0.03) scale(1,1.02)">
<text x="-5.73" y="0.00" font-size="20.6">2</text>
</g>
<g transform="translate(1049.89,309.90) rotate(0.03) scale(1,1.02)">
<text x="-5.73" y="0.00" font-size="20.6">3</text>
</g>
<g transform="translate(1140.52,309.90) rotate(0.03) scale(1,1.02)">
<text x="-5.73" y="0.00" font-size="20.6">4</text>
</g>
<g transform="translate(769.70,63.80) rotate(0.03) scale(1,1.02)">
<path class="g1" transform="translate(-93.98,0.00) scale(0.010059,-0.010059)" d="M515 0V1170L177 959V1180L530 1409H796V0Z"/>
<text x="-82.53" y="0.00" font-size="20.6">.500x</text>
<path class="g1" transform="translate(-30.98,0.00) scale(0.010059,-0.010059)" d="M515 0V1170L177 959V1180L530 1409H796V0Z"/>
<text x="-19.52" y="0.00" font-size="20.6">0</text>
<text transform="translate(-8.06,-8.50) scale(1,1.04)" font-size="14.5">5</text>
</g>
<g transform="translate(769.70,139.70) rotate(0.03) scale(1,1.02)">
<path class="g1" transform="translate(-93.98,0.00) scale(0.010059,-0.010059)" d="M515 0V1170L177 959V1180L530 1409H796V0Z"/>
<text x="-82.53" y="0.00" font-size="20.6">.000x</text>
<path class="g1" transform="translate(-30.98,0.00) scale(0.010059,-0.010059)" d="M515 0V1170L177 959V1180L530 1409H796V0Z"/>
<text x="-19.52" y="0.00" font-size="20.6">0</text>
<text transform="translate(-8.06,-8.50) scale(1,1.04)" font-size="14.5">5</text>
</g>
<g transform="translate(769.70,215.60) rotate(0.03) scale(1,1.02)">
<text x="-93.98" y="0.00" font-size="20.6">5.000x</text>
<path class="g1" transform="translate(-30.98,0.00) scale(0.010059,-0.010059)" d="M515 0V1170L177 959V1180L530 1409H796V0Z"/>
<text x="-19.52" y="0.00" font-size="20.6">0</text>
<text transform="translate(-8.06,-8.50) scale(1,1.04)" font-size="14.5">4</text>
</g>
<g transform="translate(771.10,291.00) rotate(0.03) scale(1,1.02)">
<text x="-11.46" y="0.00" font-size="20.6">0</text>
</g>
<g transform="translate(655.55,144.20) rotate(-89.97) scale(1,1.02)">
<text transform="translate(-15.15,0.00) scale(1,1.13)" font-size="18.8" font-style="italic">C</text>
<text x="-0.98" y="3.80" font-size="14.5">x</text>
<path class="g1" transform="translate(7.09,3.80) scale(0.007080,-0.007080)" d="M515 0V1170L177 959V1180L530 1409H796V0Z"/>
</g>
<g transform="translate(992.80,349.10) rotate(0.03) scale(1,0.9)">
<text x="0.00" y="0.00" font-size="19.2" font-style="italic">ω</text>
</g>
<g transform="translate(1008.45,352.95) rotate(0.03) scale(1,1.0)">
<text x="0.00" y="0.00" font-size="14.5" font-style="italic">c</text>
</g>
<path d="M846.1,62.9 H926.2" fill="none" stroke="#0000ff" stroke-width="5.0" stroke-dasharray="2.3 9.0 9.5 8.9"/>
<g transform="translate(949.00,71.40) rotate(0.03) scale(1,1.02)">
<text x="0.00" y="0.00" font-size="27.2" font-style="italic">m</text>
</g>
<g transform="translate(972.59,75.65) rotate(0.03) scale(1,1.016)">
<text x="0.00" y="0.00" font-size="19">2</text>
</g>
<rect x="986.00" y="60.40" width="12.6" height="3.0" fill="#000"/><rect x="986.00" y="65.50" width="12.6" height="3.0" fill="#000"/>
<g transform="translate(999.40,71.40) rotate(0.03) scale(1,1.05)">
<text x="0.00" y="0.00" font-size="27.2">5</text>
</g>
<rect x="168.1" y="368.5" width="444.4" height="274.5" fill="none" stroke="#626262" stroke-width="1"/>
<line x1="168.10" y1="643.00" x2="168.10" y2="636.50" stroke="#626262" stroke-width="1"/>
<line x1="186.24" y1="643.00" x2="186.24" y2="639.00" stroke="#626262" stroke-width="1"/>
<line x1="204.38" y1="643.00" x2="204.38" y2="639.00" stroke="#626262" stroke-width="1"/>
<line x1="222.51" y1="643.00" x2="222.51" y2="639.00" stroke="#626262" stroke-width="1"/>
<line x1="240.65" y1="643.00" x2="240.65" y2="639.00" stroke="#626262" stroke-width="1"/>
<line x1="258.79" y1="643.00" x2="258.79" y2="636.50" stroke="#626262" stroke-width="1"/>
<line x1="276.93" y1="643.00" x2="276.93" y2="639.00" stroke="#626262" stroke-width="1"/>
<line x1="295.07" y1="643.00" x2="295.07" y2="639.00" stroke="#626262" stroke-width="1"/>
<line x1="313.20" y1="643.00" x2="313.20" y2="639.00" stroke="#626262" stroke-width="1"/>
<line x1="331.34" y1="643.00" x2="331.34" y2="639.00" stroke="#626262" stroke-width="1"/>
<line x1="349.48" y1="643.00" x2="349.48" y2="636.50" stroke="#626262" stroke-width="1"/>
<line x1="367.62" y1="643.00" x2="367.62" y2="639.00" stroke="#626262" stroke-width="1"/>
<line x1="385.76" y1="643.00" x2="385.76" y2="639.00" stroke="#626262" stroke-width="1"/>
<line x1="403.89" y1="643.00" x2="403.89" y2="639.00" stroke="#626262" stroke-width="1"/>
<line x1="422.03" y1="643.00" x2="422.03" y2="639.00" stroke="#626262" stroke-width="1"/>
<line x1="440.17" y1="643.00" x2="440.17" y2="636.50" stroke="#626262" stroke-width="1"/>
<line x1="458.31" y1="643.00" x2="458.31" y2="639.00" stroke="#626262" stroke-width="1"/>
<line x1="476.45" y1="643.00" x2="476.45" y2="639.00" stroke="#626262" stroke-width="1"/>
<line x1="494.58" y1="643.00" x2="494.58" y2="639.00" stroke="#626262" stroke-width="1"/>
<line x1="512.72" y1="643.00" x2="512.72" y2="639.00" stroke="#626262" stroke-width="1"/>
<line x1="530.86" y1="643.00" x2="530.86" y2="636.50" stroke="#626262" stroke-width="1"/>
<line x1="549.00" y1="643.00" x2="549.00" y2="639.00" stroke="#626262" stroke-width="1"/>
<line x1="567.14" y1="643.00" x2="567.14" y2="639.00" stroke="#626262" stroke-width="1"/>
<line x1="585.27" y1="643.00" x2="585.27" y2="639.00" stroke="#626262" stroke-width="1"/>
<line x1="603.41" y1="643.00" x2="603.41" y2="639.00" stroke="#626262" stroke-width="1"/>
<line x1="168.10" y1="429.90" x2="174.60" y2="429.90" stroke="#626262" stroke-width="1"/>
<line x1="612.50" y1="429.90" x2="606.00" y2="429.90" stroke="#626262" stroke-width="1"/>
<line x1="168.10" y1="583.30" x2="174.60" y2="583.30" stroke="#626262" stroke-width="1"/>
<line x1="612.50" y1="583.30" x2="606.00" y2="583.30" stroke="#626262" stroke-width="1"/>
<g transform="translate(168.10,668.45) rotate(0.03) scale(1,1.02)">
<text x="-5.73" y="0.00" font-size="20.6">0</text>
</g>
<g transform="translate(258.79,668.45) rotate(0.03) scale(1,1.02)">
<path class="g1" transform="translate(-5.73,0.00) scale(0.010059,-0.010059)" d="M515 0V1170L177 959V1180L530 1409H796V0Z"/>
</g>
<g transform="translate(349.48,668.45) rotate(0.03) scale(1,1.02)">
<text x="-5.73" y="0.00" font-size="20.6">2</text>
</g>
<g transform="translate(440.17,668.45) rotate(0.03) scale(1,1.02)">
<text x="-5.73" y="0.00" font-size="20.6">3</text>
</g>
<g transform="translate(530.86,668.45) rotate(0.03) scale(1,1.02)">
<text x="-5.73" y="0.00" font-size="20.6">4</text>
</g>
<g transform="translate(160.40,438.90) rotate(0.03) scale(1,1.02)">
<rect class="g1" x="-111.12" y="-5.86" width="9.19" height="2.63"/>
<text x="-101.23" y="0.00" font-size="20.6">6.234x</text>
<path class="g1" transform="translate(-38.23,0.00) scale(0.010059,-0.010059)" d="M515 0V1170L177 959V1180L530 1409H796V0Z"/>
<text x="-26.77" y="0.00" font-size="20.6">0</text>
<rect class="g1" x="-15.02" y="-12.62" width="6.47" height="1.85"/>
<text transform="translate(-8.06,-8.50) scale(1,1.04)" font-size="14.5">7</text>
</g>
<g transform="translate(160.40,592.80) rotate(0.03) scale(1,1.02)">
<rect class="g1" x="-111.12" y="-5.86" width="9.19" height="2.63"/>
<text x="-101.23" y="0.00" font-size="20.6">6.235x</text>
<path class="g1" transform="translate(-38.23,0.00) scale(0.010059,-0.010059)" d="M515 0V1170L177 959V1180L530 1409H796V0Z"/>
<text x="-26.77" y="0.00" font-size="20.6">0</text>
<rect class="g1" x="-15.02" y="-12.62" width="6.47" height="1.85"/>
<text transform="translate(-8.06,-8.50) scale(1,1.04)" font-size="14.5">7</text>
</g>
<g transform="translate(27.65,506.00) rotate(-89.97) scale(1,1.02)">
<text transform="translate(-15.15,0.00) scale(1,1.13)" font-size="18.8" font-style="italic">C</text>
<text x="-0.98" y="3.80" font-size="14.5">x</text>
<path class="g1" transform="translate(7.09,3.80) scale(0.007080,-0.007080)" d="M515 0V1170L177 959V1180L530 1409H796V0Z"/>
</g>
<g transform="translate(378.80,707.90) rotate(0.03) scale(1,0.9)">
<text x="0.00" y="0.00" font-size="19.2" font-style="italic">ω</text>
</g>
<g transform="translate(394.45,711.75) rotate(0.03) scale(1,1.0)">
<text x="0.00" y="0.00" font-size="14.5" font-style="italic">c</text>
</g>
<path d="M209.6,432.9 H292" fill="none" stroke="#ff0000" stroke-width="4.8" stroke-dasharray="2.6 8.77"/>
<g transform="translate(313.25,441.20) rotate(0.03) scale(1,1.02)">
<text x="0.00" y="0.00" font-size="27.2" font-style="italic">m</text>
</g>
<g transform="translate(336.84,445.45) rotate(0.03) scale(1,1.016)">
<text x="0.00" y="0.00" font-size="19">2</text>
</g>
<rect x="350.25" y="430.20" width="12.6" height="3.0" fill="#000"/><rect x="350.25" y="435.30" width="12.6" height="3.0" fill="#000"/>
<g transform="translate(363.65,441.20) rotate(0.03) scale(1,1.05)">
<text x="0.00" y="0.00" font-size="27.2">0.5</text>
</g>
<rect x="793.0" y="369.15" width="443.5" height="274.15" fill="none" stroke="#626262" stroke-width="1.1"/>
<line x1="793.00" y1="643.30" x2="793.00" y2="636.80" stroke="#626262" stroke-width="1"/>
<line x1="793.00" y1="369.15" x2="793.00" y2="375.65" stroke="#626262" stroke-width="1"/>
<line x1="811.85" y1="643.30" x2="811.85" y2="639.30" stroke="#626262" stroke-width="1"/>
<line x1="811.85" y1="369.15" x2="811.85" y2="373.15" stroke="#626262" stroke-width="1"/>
<line x1="830.70" y1="643.30" x2="830.70" y2="639.30" stroke="#626262" stroke-width="1"/>
<line x1="830.70" y1="369.15" x2="830.70" y2="373.15" stroke="#626262" stroke-width="1"/>
<line x1="849.56" y1="643.30" x2="849.56" y2="639.30" stroke="#626262" stroke-width="1"/>
<line x1="849.56" y1="369.15" x2="849.56" y2="373.15" stroke="#626262" stroke-width="1"/>
<line x1="868.41" y1="643.30" x2="868.41" y2="639.30" stroke="#626262" stroke-width="1"/>
<line x1="868.41" y1="369.15" x2="868.41" y2="373.15" stroke="#626262" stroke-width="1"/>
<line x1="887.26" y1="643.30" x2="887.26" y2="636.80" stroke="#626262" stroke-width="1"/>
<line x1="887.26" y1="369.15" x2="887.26" y2="375.65" stroke="#626262" stroke-width="1"/>
<line x1="906.11" y1="643.30" x2="906.11" y2="639.30" stroke="#626262" stroke-width="1"/>
<line x1="906.11" y1="369.15" x2="906.11" y2="373.15" stroke="#626262" stroke-width="1"/>
<line x1="924.96" y1="643.30" x2="924.96" y2="639.30" stroke="#626262" stroke-width="1"/>
<line x1="924.96" y1="369.15" x2="924.96" y2="373.15" stroke="#626262" stroke-width="1"/>
<line x1="943.82" y1="643.30" x2="943.82" y2="639.30" stroke="#626262" stroke-width="1"/>
<line x1="943.82" y1="369.15" x2="943.82" y2="373.15" stroke="#626262" stroke-width="1"/>
<line x1="962.67" y1="643.30" x2="962.67" y2="639.30" stroke="#626262" stroke-width="1"/>
<line x1="962.67" y1="369.15" x2="962.67" y2="373.15" stroke="#626262" stroke-width="1"/>
<line x1="981.52" y1="643.30" x2="981.52" y2="636.80" stroke="#626262" stroke-width="1"/>
<line x1="981.52" y1="369.15" x2="981.52" y2="375.65" stroke="#626262" stroke-width="1"/>
<line x1="1000.37" y1="643.30" x2="1000.37" y2="639.30" stroke="#626262" stroke-width="1"/>
<line x1="1000.37" y1="369.15" x2="1000.37" y2="373.15" stroke="#626262" stroke-width="1"/>
<line x1="1019.22" y1="643.30" x2="1019.22" y2="639.30" stroke="#626262" stroke-width="1"/>
<line x1="1019.22" y1="369.15" x2="1019.22" y2="373.15" stroke="#626262" stroke-width="1"/>
<line x1="1038.08" y1="643.30" x2="1038.08" y2="639.30" stroke="#626262" stroke-width="1"/>
<line x1="1038.08" y1="369.15" x2="1038.08" y2="373.15" stroke="#626262" stroke-width="1"/>
<line x1="1056.93" y1="643.30" x2="1056.93" y2="639.30" stroke="#626262" stroke-width="1"/>
<line x1="1056.93" y1="369.15" x2="1056.93" y2="373.15" stroke="#626262" stroke-width="1"/>
<line x1="1075.78" y1="643.30" x2="1075.78" y2="636.80" stroke="#626262" stroke-width="1"/>
<line x1="1075.78" y1="369.15" x2="1075.78" y2="375.65" stroke="#626262" stroke-width="1"/>
<line x1="1094.63" y1="643.30" x2="1094.63" y2="639.30" stroke="#626262" stroke-width="1"/>
<line x1="1094.63" y1="369.15" x2="1094.63" y2="373.15" stroke="#626262" stroke-width="1"/>
<line x1="1113.48" y1="643.30" x2="1113.48" y2="639.30" stroke="#626262" stroke-width="1"/>
<line x1="1113.48" y1="369.15" x2="1113.48" y2="373.15" stroke="#626262" stroke-width="1"/>
<line x1="1132.34" y1="643.30" x2="1132.34" y2="639.30" stroke="#626262" stroke-width="1"/>
<line x1="1132.34" y1="369.15" x2="1132.34" y2="373.15" stroke="#626262" stroke-width="1"/>
<line x1="1151.19" y1="643.30" x2="1151.19" y2="639.30" stroke="#626262" stroke-width="1"/>
<line x1="1151.19" y1="369.15" x2="1151.19" y2="373.15" stroke="#626262" stroke-width="1"/>
<line x1="1170.04" y1="643.30" x2="1170.04" y2="636.80" stroke="#626262" stroke-width="1"/>
<line x1="1170.04" y1="369.15" x2="1170.04" y2="375.65" stroke="#626262" stroke-width="1"/>
<line x1="1188.89" y1="643.30" x2="1188.89" y2="639.30" stroke="#626262" stroke-width="1"/>
<line x1="1188.89" y1="369.15" x2="1188.89" y2="373.15" stroke="#626262" stroke-width="1"/>
<line x1="1207.74" y1="643.30" x2="1207.74" y2="639.30" stroke="#626262" stroke-width="1"/>
<line x1="1207.74" y1="369.15" x2="1207.74" y2="373.15" stroke="#626262" stroke-width="1"/>
<line x1="1226.60" y1="643.30" x2="1226.60" y2="639.30" stroke="#626262" stroke-width="1"/>
<line x1="1226.60" y1="369.15" x2="1226.60" y2="373.15" stroke="#626262" stroke-width="1"/>
<line x1="793.00" y1="382.90" x2="797.00" y2="382.90" stroke="#626262" stroke-width="1"/>
<line x1="1236.50" y1="382.90" x2="1232.50" y2="382.90" stroke="#626262" stroke-width="1"/>
<line x1="793.00" y1="396.73" x2="797.00" y2="396.73" stroke="#626262" stroke-width="1"/>
<line x1="1236.50" y1="396.73" x2="1232.50" y2="396.73" stroke="#626262" stroke-width="1"/>
<line x1="793.00" y1="410.57" x2="797.00" y2="410.57" stroke="#626262" stroke-width="1"/>
<line x1="1236.50" y1="410.57" x2="1232.50" y2="410.57" stroke="#626262" stroke-width="1"/>
<line x1="793.00" y1="424.40" x2="799.50" y2="424.40" stroke="#626262" stroke-width="1"/>
<line x1="1236.50" y1="424.40" x2="1230.00" y2="424.40" stroke="#626262" stroke-width="1"/>
<line x1="793.00" y1="438.23" x2="797.00" y2="438.23" stroke="#626262" stroke-width="1"/>
<line x1="1236.50" y1="438.23" x2="1232.50" y2="438.23" stroke="#626262" stroke-width="1"/>
<line x1="793.00" y1="452.06" x2="797.00" y2="452.06" stroke="#626262" stroke-width="1"/>
<line x1="1236.50" y1="452.06" x2="1232.50" y2="452.06" stroke="#626262" stroke-width="1"/>
<line x1="793.00" y1="465.90" x2="797.00" y2="465.90" stroke="#626262" stroke-width="1"/>
<line x1="1236.50" y1="465.90" x2="1232.50" y2="465.90" stroke="#626262" stroke-width="1"/>
<line x1="793.00" y1="479.73" x2="799.50" y2="479.73" stroke="#626262" stroke-width="1"/>
<line x1="1236.50" y1="479.73" x2="1230.00" y2="479.73" stroke="#626262" stroke-width="1"/>
<line x1="793.00" y1="493.56" x2="797.00" y2="493.56" stroke="#626262" stroke-width="1"/>
<line x1="1236.50" y1="493.56" x2="1232.50" y2="493.56" stroke="#626262" stroke-width="1"/>
<line x1="793.00" y1="507.39" x2="797.00" y2="507.39" stroke="#626262" stroke-width="1"/>
<line x1="1236.50" y1="507.39" x2="1232.50" y2="507.39" stroke="#626262" stroke-width="1"/>
<line x1="793.00" y1="521.23" x2="797.00" y2="521.23" stroke="#626262" stroke-width="1"/>
<line x1="1236.50" y1="521.23" x2="1232.50" y2="521.23" stroke="#626262" stroke-width="1"/>
<line x1="793.00" y1="535.06" x2="799.50" y2="535.06" stroke="#626262" stroke-width="1"/>
<line x1="1236.50" y1="535.06" x2="1230.00" y2="535.06" stroke="#626262" stroke-width="1"/>
<line x1="793.00" y1="548.89" x2="797.00" y2="548.89" stroke="#626262" stroke-width="1"/>
<line x1="1236.50" y1="548.89" x2="1232.50" y2="548.89" stroke="#626262" stroke-width="1"/>
<line x1="793.00" y1="562.72" x2="797.00" y2="562.72" stroke="#626262" stroke-width="1"/>
<line x1="1236.50" y1="562.72" x2="1232.50" y2="562.72" stroke="#626262" stroke-width="1"/>
<line x1="793.00" y1="576.56" x2="797.00" y2="576.56" stroke="#626262" stroke-width="1"/>
<line x1="1236.50" y1="576.56" x2="1232.50" y2="576.56" stroke="#626262" stroke-width="1"/>
<line x1="793.00" y1="590.39" x2="799.50" y2="590.39" stroke="#626262" stroke-width="1"/>
<line x1="1236.50" y1="590.39" x2="1230.00" y2="590.39" stroke="#626262" stroke-width="1"/>
<line x1="793.00" y1="604.22" x2="797.00" y2="604.22" stroke="#626262" stroke-width="1"/>
<line x1="1236.50" y1="604.22" x2="1232.50" y2="604.22" stroke="#626262" stroke-width="1"/>
<line x1="793.00" y1="618.05" x2="797.00" y2="618.05" stroke="#626262" stroke-width="1"/>
<line x1="1236.50" y1="618.05" x2="1232.50" y2="618.05" stroke="#626262" stroke-width="1"/>
<line x1="793.00" y1="631.89" x2="797.00" y2="631.89" stroke="#626262" stroke-width="1"/>
<line x1="1236.50" y1="631.89" x2="1232.50" y2="631.89" stroke="#626262" stroke-width="1"/>
<g transform="translate(793.00,668.45) rotate(0.03) scale(1,1.02)">
<text x="-5.73" y="0.00" font-size="20.6">0</text>
</g>
<g transform="translate(887.26,668.45) rotate(0.03) scale(1,1.02)">
<path class="g1" transform="translate(-5.73,0.00) scale(0.010059,-0.010059)" d="M515 0V1170L177 959V1180L530 1409H796V0Z"/>
</g>
<g transform="translate(981.52,668.45) rotate(0.03) scale(1,1.02)">
<text x="-5.73" y="0.00" font-size="20.6">2</text>
</g>
<g transform="translate(1075.78,668.45) rotate(0.03) scale(1,1.02)">
<text x="-5.73" y="0.00" font-size="20.6">3</text>
</g>
<g transform="translate(1170.04,668.45) rotate(0.03) scale(1,1.02)">
<text x="-5.73" y="0.00" font-size="20.6">4</text>
</g>
<g transform="translate(785.00,433.05) rotate(0.03) scale(1,1.02)">
<rect class="g1" x="-104.22" y="-5.86" width="9.19" height="2.63"/>
<text x="-94.33" y="0.00" font-size="20.6">6.</text>
<path class="g1" transform="translate(-77.15,0.00) scale(0.010059,-0.010059)" d="M515 0V1170L177 959V1180L530 1409H796V0Z"/>
<text x="-65.70" y="0.00" font-size="20.6">6</text>
<path d="M-49.28,-8.13 L-42.39,-1.24 M-49.28,-1.24 L-42.39,-8.13" fill="none" stroke="#000" stroke-width="2.30"/>
<path class="g1" transform="translate(-38.23,0.00) scale(0.010059,-0.010059)" d="M515 0V1170L177 959V1180L530 1409H796V0Z"/>
<text x="-26.77" y="0.00" font-size="20.6">0</text>
<rect class="g1" x="-15.02" y="-12.62" width="6.47" height="1.85"/>
<text transform="translate(-8.06,-8.50) scale(1,1.04)" font-size="14.5">7</text>
</g>
<g transform="translate(785.00,488.38) rotate(0.03) scale(1,1.02)">
<rect class="g1" x="-104.22" y="-5.86" width="9.19" height="2.63"/>
<text x="-94.33" y="0.00" font-size="20.6">6.</text>
<path class="g1" transform="translate(-77.15,0.00) scale(0.010059,-0.010059)" d="M515 0V1170L177 959V1180L530 1409H796V0Z"/>
<text x="-65.70" y="0.00" font-size="20.6">8</text>
<path d="M-49.28,-8.13 L-42.39,-1.24 M-49.28,-1.24 L-42.39,-8.13" fill="none" stroke="#000" stroke-width="2.30"/>
<path class="g1" transform="translate(-38.23,0.00) scale(0.010059,-0.010059)" d="M515 0V1170L177 959V1180L530 1409H796V0Z"/>
<text x="-26.77" y="0.00" font-size="20.6">0</text>
<rect class="g1" x="-15.02" y="-12.62" width="6.47" height="1.85"/>
<text transform="translate(-8.06,-8.50) scale(1,1.04)" font-size="14.5">7</text>
</g>
<g transform="translate(785.00,543.71) rotate(0.03) scale(1,1.02)">
<rect class="g1" x="-104.22" y="-5.86" width="9.19" height="2.63"/>
<text x="-94.33" y="0.00" font-size="20.6">6.20</text>
<path d="M-49.28,-8.13 L-42.39,-1.24 M-49.28,-1.24 L-42.39,-8.13" fill="none" stroke="#000" stroke-width="2.30"/>
<path class="g1" transform="translate(-38.23,0.00) scale(0.010059,-0.010059)" d="M515 0V1170L177 959V1180L530 1409H796V0Z"/>
<text x="-26.77" y="0.00" font-size="20.6">0</text>
<rect class="g1" x="-15.02" y="-12.62" width="6.47" height="1.85"/>
<text transform="translate(-8.06,-8.50) scale(1,1.04)" font-size="14.5">7</text>
</g>
<g transform="translate(785.00,599.04) rotate(0.03) scale(1,1.02)">
<rect class="g1" x="-104.22" y="-5.86" width="9.19" height="2.63"/>
<text x="-94.33" y="0.00" font-size="20.6">6.22</text>
<path d="M-49.28,-8.13 L-42.39,-1.24 M-49.28,-1.24 L-42.39,-8.13" fill="none" stroke="#000" stroke-width="2.30"/>
<path class="g1" transform="translate(-38.23,0.00) scale(0.010059,-0.010059)" d="M515 0V1170L177 959V1180L530 1409H796V0Z"/>
<text x="-26.77" y="0.00" font-size="20.6">0</text>
<rect class="g1" x="-15.02" y="-12.62" width="6.47" height="1.85"/>
<text transform="translate(-8.06,-8.50) scale(1,1.04)" font-size="14.5">7</text>
</g>
<g transform="translate(658.65,506.00) rotate(-89.97) scale(1,1.02)">
<text transform="translate(-15.15,0.00) scale(1,1.13)" font-size="18.8" font-style="italic">C</text>
<text x="-0.98" y="3.80" font-size="14.5">x</text>
<path class="g1" transform="translate(7.09,3.80) scale(0.007080,-0.007080)" d="M515 0V1170L177 959V1180L530 1409H796V0Z"/>
</g>
<g transform="translate(1003.30,708.10) rotate(0.03) scale(1,0.9)">
<text x="0.00" y="0.00" font-size="19.2" font-style="italic">ω</text>
</g>
<g transform="translate(1018.95,711.95) rotate(0.03) scale(1,1.0)">
<text x="0.00" y="0.00" font-size="14.5" font-style="italic">c</text>
</g>
<path d="M852.8,432.4 H933" fill="none" stroke="#ff0000" stroke-width="5.0" stroke-dasharray="2.3 9.0 9.5 8.9"/>
<g transform="translate(956.30,441.00) rotate(0.03) scale(1,1.02)">
<text x="0.00" y="0.00" font-size="27.2" font-style="italic">m</text>
</g>
<g transform="translate(979.89,445.25) rotate(0.03) scale(1,1.016)">
<text x="0.00" y="0.00" font-size="19">2</text>
</g>
<rect x="993.30" y="430.00" width="12.6" height="3.0" fill="#000"/><rect x="993.30" y="435.10" width="12.6" height="3.0" fill="#000"/>
<g transform="translate(1006.70,441.00) rotate(0.03) scale(1,1.05)">
<text x="0.00" y="0.00" font-size="27.2">5</text>
</g>
</svg>
</body></html>
